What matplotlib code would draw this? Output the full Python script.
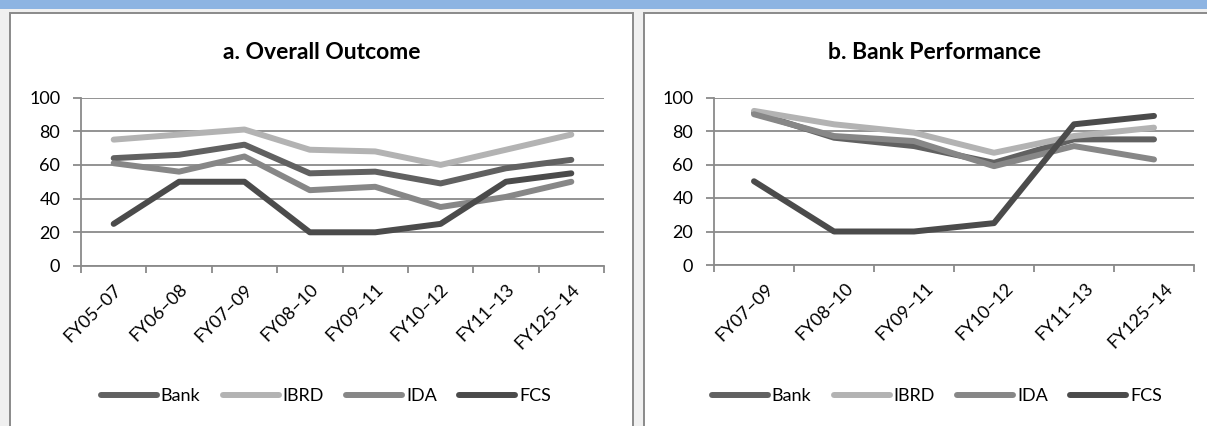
import numpy as np
import matplotlib
matplotlib.use("Agg")
import matplotlib.pyplot as plt
from matplotlib.patches import Rectangle
from matplotlib.lines import Line2D
import matplotlib.transforms as mtransforms

plt.rcParams['font.family'] = ['Lato', 'DejaVu Sans']

# ---- data ----
left_categories = ["FY05–07", "FY06–08", "FY07–09", "FY08–10",
                   "FY09–11", "FY10–12", "FY11–13", "FY125–14"]
left_bank = [64, 66, 72, 55, 56, 49, 58, 63]
left_ibrd = [75, 78, 81, 69, 68, 60, 69, 78]
left_ida = [61, 56, 65, 45, 47, 35, 41, 50]
left_fcs = [25, 50, 50, 20, 20, 25, 50, 55]

right_categories = ["FY07–09", "FY08–10", "FY09–11", "FY10–12",
                    "FY11–13", "FY125–14"]
right_bank = [91, 76, 71, 61, 75, 75]
right_ibrd = [92, 84, 79, 67, 77, 82]
right_ida = [90, 77, 74, 59, 71, 63]
right_fcs = [50, 20, 20, 25, 84, 89]

series_names = ["Bank", "IBRD", "IDA", "FCS"]
y_ticks = [0, 20, 40, 60, 80, 100]

# ---- styling ----
W, H = 1207, 426
colors = {"Bank": "#616161", "IBRD": "#b3b3b3", "IDA": "#878787", "FCS": "#4b4b4b"}
axis_gray = "#8a8a8a"
LW = 4.3
FS = 13

fig = plt.figure(figsize=(W / 100, H / 100), dpi=100)
fig.patch.set_facecolor("#f0f0f0")


def fx(px):
    return px / W


def fy(py):
    return 1 - py / H


# top band and panel frames
fig.add_artist(Rectangle((0, fy(9)), 1, 9 / H, transform=fig.transFigure,
                         facecolor="#8db4e2", edgecolor="none", zorder=-2))
for x0, x1 in [(10, 633), (644, 1230)]:
    fig.add_artist(Rectangle((fx(x0), fy(440)), fx(x1 - x0), (440 - 13) / H,
                             transform=fig.transFigure, facecolor="white",
                             edgecolor=axis_gray, linewidth=1.4, zorder=-1))


def draw_panel(rect_px, cats, data, title, title_x, legend_x, label_shift):
    x0, x1, ytop, ybot = rect_px
    ax = fig.add_axes([fx(x0), fy(ybot), fx(x1 - x0), (ybot - ytop) / H])
    ax.set_facecolor("none")
    n = len(cats)
    x = np.arange(n)
    for name, vals in zip(series_names, data):
        ax.plot(x, vals, color=colors[name], lw=LW, solid_capstyle="round",
                solid_joinstyle="round", zorder=3)
    ax.set_xlim(-0.5, n - 0.5)
    ax.set_ylim(0, 100)
    ax.set_yticks(y_ticks)
    ax.yaxis.grid(True, color=axis_gray, lw=1.3)
    ax.set_axisbelow(True)
    for s in ["top", "right"]:
        ax.spines[s].set_visible(False)
    for s in ["left", "bottom"]:
        ax.spines[s].set_color(axis_gray)
        ax.spines[s].set_linewidth(1.3)
    ax.tick_params(axis="y", length=6, width=1.3, color=axis_gray,
                   labelsize=FS, pad=9)
    ax.set_xticks(x)
    ax.set_xticklabels(cats, rotation=45, ha="right", va="top",
                       rotation_mode="anchor", fontsize=FS)
    ax.tick_params(axis="x", which="major", length=0, pad=11)
    ax.set_xticks(np.arange(-0.5, n), minor=True)
    ax.tick_params(axis="x", which="minor", length=5, width=1.3,
                   color=axis_gray, direction="out")
    if label_shift:
        off = mtransforms.ScaledTranslation(label_shift / 100, 0,
                                            fig.dpi_scale_trans)
        for lab in ax.get_xticklabels():
            lab.set_transform(lab.get_transform() + off)
    fig.text(fx(title_x), fy(59), title, ha="center", va="baseline",
             fontsize=16.5, fontweight="bold", color="black")
    handles = [Line2D([], [], color=colors[nm], lw=LW, solid_capstyle="round")
               for nm in series_names]
    fig.legend(handles, series_names, loc="center",
               bbox_to_anchor=(fx(legend_x), fy(396)),
               bbox_transform=fig.transFigure, ncol=4, frameon=False,
               fontsize=FS, handlelength=3.1, handletextpad=0.2,
               columnspacing=1.25, borderpad=0, borderaxespad=0)
    return ax


draw_panel((81, 604, 97.5, 266), left_categories,
           [left_bank, left_ibrd, left_ida, left_fcs],
           "a. Overall Outcome", 322, 326, 0)
draw_panel((714, 1194, 97.5, 265), right_categories,
           [right_bank, right_ibrd, right_ida, right_fcs],
           "b. Bank Performance", 934, 937, 11)

fig.savefig("out.png", dpi=100, facecolor=fig.get_facecolor())
